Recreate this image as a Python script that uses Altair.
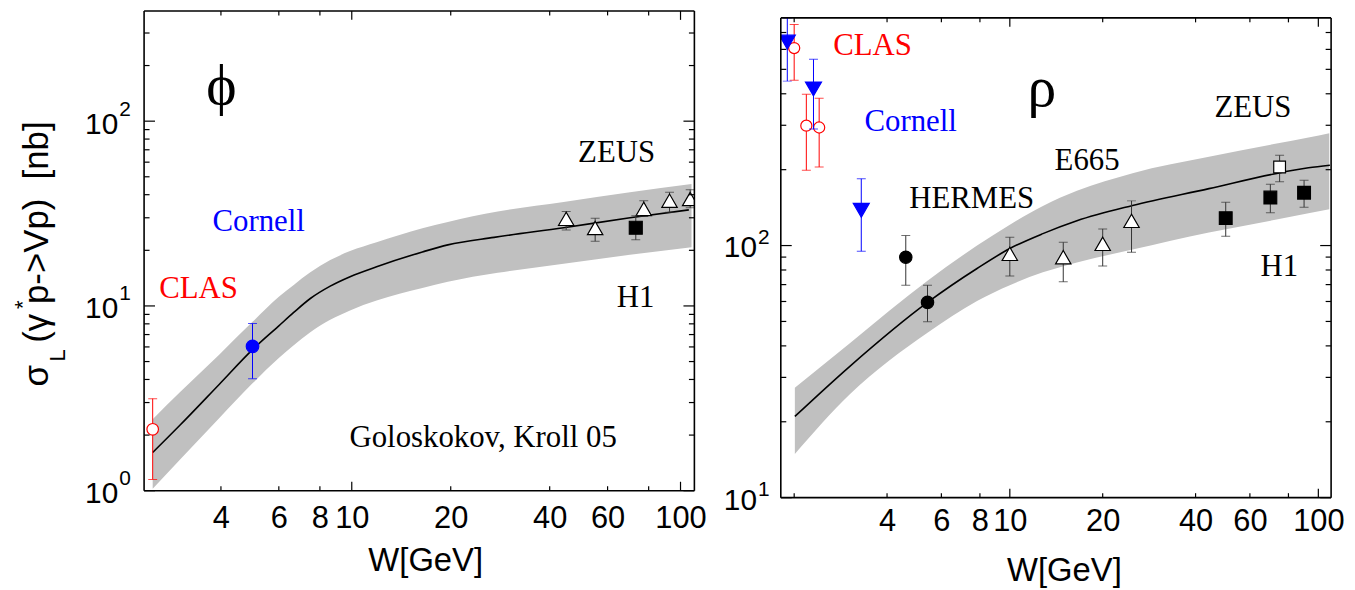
import altair as alt
import pandas as pd

SANS = "Liberation Sans"
SERIF = "Liberation Serif"
RED = "#ff0000"
BLUE = "#0000ff"
BAND = "#c0c0c0"
EBAR = "#333333"
PW, PH = 554, 483

# ---------------- phi panel (left) ----------------
phi_curve_W = [2.48, 3.0, 3.95, 4.99, 6.0, 6.66, 7.48, 8.6, 9.88, 11.9, 16.4, 19.6, 27.1, 44.1, 70.2, 106]
phi_curve_s = [1.61, 2.26, 3.76, 5.80, 7.80, 9.22, 10.97, 12.8, 14.4, 16.3, 19.6, 21.4, 23.5, 26.5, 30.0, 33.1]
phi_band_W = [2.48, 3.0, 3.95, 4.99, 6.0, 6.66, 7.48, 8.6, 9.88, 11.9, 16.4, 19.6, 27.8, 44.1, 70.2, 108]
phi_band_lo = [1.025, 1.47, 2.47, 3.81, 5.22, 6.13, 7.20, 8.41, 9.46, 10.7, 12.5, 13.5, 15.1, 16.9, 18.9, 20.8]
phi_band_hi = [2.44, 3.41, 5.45, 8.20, 11.2, 13.0, 15.2, 17.7, 19.8, 22.1, 26.3, 28.5, 32.4, 36.5, 41.2, 45.7]

phi_clas_W, phi_clas_s, phi_clas_lo, phi_clas_hi = [2.48], [2.15], [1.15], [3.15]
phi_corn_W, phi_corn_s, phi_corn_lo, phi_corn_hi = [4.99], [6.04], [4.04], [8.03]
phi_zeus_W = [44.9, 55.0, 77.3, 92.6, 107]
phi_zeus_s = [29.6, 26.4, 33.5, 37.1, 37.9]
phi_zeus_lo = [25.8, 22.4, 30.5, 32.1, 34.0]
phi_zeus_hi = [32.4, 29.8, 37.1, 41.2, 42.6]
phi_h1_W, phi_h1_s, phi_h1_lo, phi_h1_hi = [73.1], [26.5], [22.8], [30.8]

phi_lab_text = ["ϕ", "Cornell", "CLAS", "ZEUS", "H1", "Goloskokov, Kroll 05"]
phi_lab_W = [4.01, 5.21, 3.42, 63.9, 73.0, 25.1]
phi_lab_s = [153, 28.6, 12.35, 67.3, 11.1, 1.93]
phi_lab_c = ["black", BLUE, RED, "black", "black", "black"]
phi_lab_fs = [58, 31, 31, 31, 31, 31]

phi_xlabels = [4, 6, 8, 10, 20, 40, 60, 100]
phi_xt_major = [10, 100]
phi_xt_minor = [4, 6, 8, 20, 40, 60, 80]
phi_yt_major = [1, 10, 100]
phi_yt_minor = [2, 3, 4, 5, 6, 7, 8, 9, 20, 30, 40, 50, 60, 70, 80, 90, 200, 300]
phi_ylab_v = [1, 10, 100]
phi_ylab_b = ["10", "10", "10"]
phi_ylab_e = ["0", "1", "2"]

# ---------------- rho panel (right) ----------------
rho_curve_W = [2.01, 3.03, 5.41, 7.83, 10.0, 12.8, 16.5, 25.0, 44.2, 72.5, 92.9, 109]
rho_curve_s = [21.0, 33.2, 59.5, 81.1, 97.3, 111.5, 125.4, 144.2, 168.2, 192.8, 203.4, 208.3]
rho_band_W = [2.01, 3.03, 5.41, 7.83, 10.0, 12.8, 16.5, 25.0, 44.2, 72.5, 92.9, 108.5]
rho_band_lo = [14.9, 25.7, 45.1, 60.3, 69.6, 78.3, 85.7, 96.4, 112.6, 126.5, 134.4, 139.3]
rho_band_hi = [27.3, 41.0, 72.5, 100, 121, 143.6, 164.8, 193.7, 225, 253.3, 268, 279]

rho_clas_W = [2.0, 2.19, 2.41]
rho_clas_s = [607, 299, 294]
rho_clas_lo = [453, 199, 205]
rho_clas_hi = [753, 398, 384]
rho_corn_W = [1.90, 2.31, 3.30]
rho_corn_s = [641, 418, 138]
rho_corn_lo = [449, 290, 95]
rho_corn_hi = [800, 548, 184]
rho_herm_W, rho_herm_s, rho_herm_lo, rho_herm_hi = [4.60, 5.41], [89.9, 59.5], [69.6, 49.9], [109.5, 69.6]
rho_e665_W = [10.0, 14.9, 20.0, 24.8]
rho_e665_s = [92.7, 89.9, 101.6, 125.3]
rho_e665_lo = [75.7, 71.8, 82.9, 94.1]
rho_e665_hi = [107.9, 103, 116.4, 150.4]
rho_zeus_W, rho_zeus_s, rho_zeus_lo, rho_zeus_hi = [74.9], [205], [179], [228]
rho_h1_W = [50.1, 69.9, 89.9]
rho_h1_s = [128.5, 155, 162]
rho_h1_lo = [108.8, 135, 142]
rho_h1_hi = [148.6, 175, 181.5]

rho_lab_text = ["ρ", "CLAS", "Cornell", "HERMES", "E665", "ZEUS", "H1"]
rho_lab_W = [12.7, 3.59, 4.77, 7.52, 17.8, 61.4, 74.7]
rho_lab_s = [419, 618, 310, 152.7, 216, 352, 82.2]
rho_lab_c = ["black", RED, BLUE, "black", "black", "black", "black"]
rho_lab_fs = [58, 31, 31, 31, 31, 31, 31]

rho_xlabels = [4, 6, 8, 10, 20, 40, 60, 100]
rho_xt_major = [10, 100]
rho_xt_minor = [2, 4, 6, 8, 20, 40, 60, 80]
rho_yt_major = [10, 100]
rho_yt_minor = [20, 30, 40, 50, 60, 70, 80, 90, 200, 300, 400, 500, 600, 700]
rho_ylab_v = [10, 100]
rho_ylab_b = ["10", "10"]
rho_ylab_e = ["1", "2"]

ytitle_parts = ["σ", "L", "(γ", "*", "p->Vp)\u00a0\u00a0[nb]"]


def frame(**cols):
    return pd.DataFrame(cols)


def make_axis(values, title_x, title_y, label_pad):
    return alt.Axis(values=values, format="d", ticks=False, domain=False, grid=False,
                    labelFont=SANS, labelFontSize=31, labelColor="black", labelPadding=label_pad,
                    labelFlush=False, labelOverlap=False,
                    title="W[GeV]", titleFont=SANS, titleFontSize=33, titleFontWeight="normal",
                    titleColor="black", titleX=title_x, titleY=title_y, titleBaseline="middle",
                    titleAlign="center")


def panel(xdom, ydom, top, xaxis, curve, band, series, labels, xt, yt, ylab, ylab_x, ylab_dy, exp_dy,
          extra=None):
    bottom = top + PH
    xs = alt.Scale(type="log", domain=xdom, nice=False, zero=False)
    ys = alt.Scale(type="log", domain=ydom, nice=False, zero=False, range=[bottom, top])

    def X(f="W"):
        return alt.X(f"{f}:Q", scale=xs, axis=xaxis)

    def Y(f):
        return alt.Y(f"{f}:Q", scale=ys, axis=None)

    layers = []
    bW, blo, bhi = band
    layers.append(alt.Chart(frame(W=bW, lo=blo, hi=bhi))
                  .mark_area(color=BAND, opacity=1, interpolate="monotone")
                  .encode(x=X(), y=Y("lo"), y2="hi:Q"))
    cW, cs = curve
    layers.append(alt.Chart(frame(W=cW, s=cs))
                  .mark_line(color="black", strokeWidth=1.6, interpolate="monotone")
                  .encode(x=X(), y=Y("s")))
    for (W, s, lo, hi, shape, size, fill, stroke, ecol) in series:
        d = frame(W=W, s=s, lo=lo, hi=hi)
        layers.append(alt.Chart(d).mark_rule(color=ecol, strokeWidth=1, clip=True)
                      .encode(x=X(), y=Y("lo"), y2="hi:Q"))
        layers.append(alt.Chart(d).transform_fold(["lo", "hi"], as_=["k", "v"])
                      .mark_tick(orient="horizontal", size=9, thickness=1, color=ecol, clip=True)
                      .encode(x=X(), y=Y("v")))
        layers.append(alt.Chart(d).mark_point(shape=shape, size=size, filled=True, fill=fill,
                                              stroke=stroke, strokeWidth=1.2, opacity=1, clip=True)
                      .encode(x=X(), y=Y("s")))
    lt, lW, ls, lc, lfs = labels
    layers.append(alt.Chart(frame(t=lt, W=lW, s=ls, c=lc, fs=lfs))
                  .mark_text(font=SERIF, align="center", baseline="middle")
                  .encode(x=X(), y=Y("s"), text="t:N",
                          color=alt.Color("c:N", scale=None),
                          size=alt.Size("fs:Q", scale=None)))
    # inward ticks on all four sides
    xmaj, xmin = xt
    for vals, L in ((xmaj, 9), (xmin, 4.5)):
        b = alt.Chart(frame(W=vals)).mark_rule(color="black", strokeWidth=1.2)
        layers.append(b.encode(x=X(), y=alt.value(bottom), y2=alt.value(bottom - L)))
        layers.append(b.encode(x=X(), y=alt.value(top), y2=alt.value(top + L)))
    ymaj, ymin = yt
    for vals, L in ((ymaj, 11), (ymin, 5.5)):
        b = alt.Chart(frame(s=vals)).mark_rule(color="black", strokeWidth=1.2)
        layers.append(b.encode(y=Y("s"), x=alt.value(0), x2=alt.value(L)))
        layers.append(b.encode(y=Y("s"), x=alt.value(PW), x2=alt.value(PW - L)))
    # plot frame
    fr = alt.Chart(frame(a=[0])).mark_rule(color="black", strokeWidth=1.6)
    layers.append(fr.encode(x=alt.value(0), x2=alt.value(PW), y=alt.value(top)))
    layers.append(fr.encode(x=alt.value(0), x2=alt.value(PW), y=alt.value(bottom)))
    layers.append(fr.encode(x=alt.value(0), y=alt.value(top), y2=alt.value(bottom)))
    layers.append(fr.encode(x=alt.value(PW), y=alt.value(top), y2=alt.value(bottom)))
    # y tick labels 10^n
    yv, yb, ye = ylab
    d = frame(s=yv, b=yb, e=ye)
    layers.append(alt.Chart(d).mark_text(align="right", baseline="middle", font=SANS, fontSize=30,
                                         dy=ylab_dy, color="black")
                  .encode(y=Y("s"), x=alt.value(ylab_x), text="b:N"))
    layers.append(alt.Chart(d).mark_text(align="left", baseline="middle", font=SANS, fontSize=21,
                                         dy=exp_dy, color="black")
                  .encode(y=Y("s"), x=alt.value(ylab_x + 1), text="e:N"))
    if extra:
        layers.extend(extra)
    return alt.layer(*layers).properties(width=PW, height=bottom)


# y-axis title of the left panel, built from pieces (sub/superscripts)
title_pos = [(-96.3, 378, 35), (-79.3, 353, 22), (-96.3, 334, 35), (-115.3, 300, 22), (-96.3, 295, 35)]
ytitle_layers = []
for txt, (px, py, fs) in zip(ytitle_parts, title_pos):
    ytitle_layers.append(
        alt.Chart(frame(t=[txt])).mark_text(angle=270, align="left", baseline="alphabetic",
                                            font=SANS, fontSize=fs, color="black")
        .encode(x=alt.value(px), y=alt.value(py), text="t:N"))

left = panel(
    [2.335, 110.2], [1, 395], 0,
    make_axis(phi_xlabels, 283, 70, 13),
    (phi_curve_W, phi_curve_s),
    (phi_band_W, phi_band_lo, phi_band_hi),
    [
        (phi_clas_W, phi_clas_s, phi_clas_lo, phi_clas_hi, "circle", 135, "white", RED, RED),
        (phi_corn_W, phi_corn_s, phi_corn_lo, phi_corn_hi, "circle", 160, BLUE, BLUE, BLUE),
        (phi_zeus_W, phi_zeus_s, phi_zeus_lo, phi_zeus_hi, "triangle-up", 240, "white", "black", EBAR),
        (phi_h1_W, phi_h1_s, phi_h1_lo, phi_h1_hi, "square", 170, "black", "black", EBAR),
    ],
    (phi_lab_text, phi_lab_W, phi_lab_s, phi_lab_c, phi_lab_fs),
    (phi_xt_major, phi_xt_minor), (phi_yt_major, phi_yt_minor),
    (phi_ylab_v, phi_ylab_b, phi_ylab_e), -26, 3.5, -11.5,
    extra=ytitle_layers,
)

right = panel(
    [1.81, 110], [10, 800], 7,
    make_axis(rho_xlabels, 285, 73, 9),
    (rho_curve_W, rho_curve_s),
    (rho_band_W, rho_band_lo, rho_band_hi),
    [
        (rho_clas_W, rho_clas_s, rho_clas_lo, rho_clas_hi, "circle", 125, "white", RED, RED),
        (rho_corn_W, rho_corn_s, rho_corn_lo, rho_corn_hi, "triangle-down", 260, BLUE, BLUE, BLUE),
        (rho_herm_W, rho_herm_s, rho_herm_lo, rho_herm_hi, "circle", 155, "black", "black", EBAR),
        (rho_e665_W, rho_e665_s, rho_e665_lo, rho_e665_hi, "triangle-up", 240, "white", "black", EBAR),
        (rho_zeus_W, rho_zeus_s, rho_zeus_lo, rho_zeus_hi, "square", 140, "white", "black", EBAR),
        (rho_h1_W, rho_h1_s, rho_h1_lo, rho_h1_hi, "square", 165, "black", "black", EBAR),
    ],
    (rho_lab_text, rho_lab_W, rho_lab_s, rho_lab_c, rho_lab_fs),
    (rho_xt_major, rho_xt_minor), (rho_yt_major, rho_yt_minor),
    (rho_ylab_v, rho_ylab_b, rho_ylab_e), -24, 3, -8,
)

chart = (alt.hconcat(left, right, spacing=17)
         .properties(padding={"left": 3, "top": 0, "right": 2, "bottom": 0}, background="white")
         .configure_view(strokeWidth=0))

chart.save("out.html", embed_options={"renderer": "svg", "actions": False})
